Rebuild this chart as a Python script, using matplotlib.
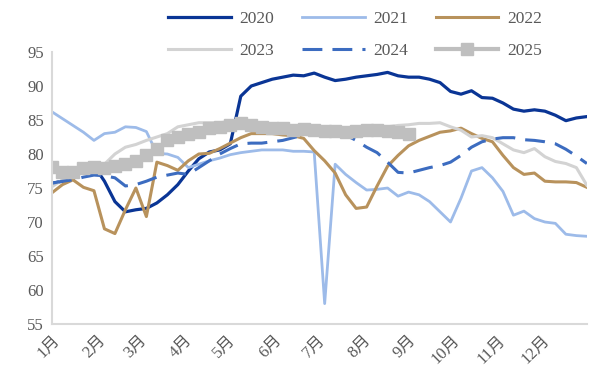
import numpy as np
import matplotlib.pyplot as plt

plt.rcParams['font.family'] = ['Liberation Serif', 'Noto Sans CJK SC']

weeks = np.arange(1, 53)
months = ['1月', '2月', '3月', '4月', '5月', '6月', '7月', '8月', '9月', '10月', '11月', '12月']
month_start_day = [0, 31, 59, 90, 120, 151, 181, 212, 243, 273, 304, 334]

y2020 = [75.7, 76.0, 76.3, 78.5, 78.3, 76.0, 73.0, 71.5, 71.8, 72.0, 72.8, 74.0, 75.5,
         77.5, 79.3, 80.3, 80.6, 81.5, 88.5, 90.0, 90.5, 91.0, 91.3, 91.6, 91.5, 91.9,
         91.3, 90.8, 91.0, 91.3, 91.5, 91.7, 92.0, 91.5, 91.3, 91.3, 91.0, 90.5, 89.2,
         88.8, 89.3, 88.3, 88.2, 87.5, 86.6, 86.3, 86.5, 86.3, 85.7, 84.9, 85.3, 85.5]
y2021 = [86.2, 85.2, 84.2, 83.2, 82.0, 83.0, 83.2, 84.0, 83.9, 83.3, 80.1, 80.0, 79.5,
         78.0, 78.5, 79.0, 79.4, 79.9, 80.2, 80.4, 80.6, 80.6, 80.6, 80.4, 80.4, 80.3,
         58.0, 78.5, 77.0, 75.8, 74.7, 74.8, 75.0, 73.8, 74.4, 74.0, 73.0, 71.5, 70.0,
         73.5, 77.5, 78.0, 76.5, 74.5, 71.0, 71.6, 70.5, 70.0, 69.8, 68.2, 68.0, 67.9]
y2022 = [74.3, 75.5, 76.2, 75.1, 74.6, 69.0, 68.3, 71.8, 75.0, 70.8, 78.8, 78.3, 77.6,
         79.0, 80.0, 80.1, 80.8, 81.6, 82.4, 83.0, 83.0, 83.0, 82.8, 82.7, 82.3, 80.5,
         79.0, 77.2, 74.0, 72.0, 72.2, 75.3, 78.2, 79.8, 81.2, 82.0, 82.6, 83.2, 83.4,
         83.8, 83.0, 82.3, 81.8, 79.8, 78.0, 77.0, 77.2, 76.0, 75.9, 75.9, 75.8, 75.1]
y2023 = [75.2, 76.2, 76.8, 77.3, 77.8, 78.5, 80.0, 81.0, 81.4, 82.0, 82.5, 83.0, 84.0,
         84.3, 84.6, 84.6, 84.6, 84.8, 84.5, 84.2, 84.0, 83.8, 83.6, 83.6, 83.5, 83.5,
         83.4, 83.4, 83.5, 83.6, 83.7, 83.8, 84.0, 84.2, 84.3, 84.5, 84.5, 84.6, 84.0,
         83.5, 82.5, 82.7, 82.4, 81.5, 80.6, 80.2, 80.8, 79.6, 78.9, 78.6, 78.0, 75.4]
y2024 = [75.7, 76.0, 76.2, 76.6, 76.9, 76.8, 76.5, 75.3, 75.5, 76.0, 76.6, 76.9, 77.2,
         77.0, 78.0, 79.0, 80.0, 80.8, 81.5, 81.6, 81.6, 81.8, 82.0, 82.4, 82.8, 83.0,
         83.0, 83.0, 82.8, 82.0, 81.0, 80.2, 78.8, 77.3, 77.2, 77.6, 78.0, 78.3, 78.8,
         79.8, 81.0, 81.8, 82.2, 82.4, 82.4, 82.1, 82.0, 81.8, 81.5, 80.7, 79.7, 78.6]
y2025 = [78.1, 77.3, 77.3, 78.0, 78.1, 78.0, 78.2, 78.5, 79.0, 79.8, 80.7, 82.0, 82.5,
         83.0, 83.3, 83.8, 84.0, 84.3, 84.5, 84.3, 84.0, 83.8, 83.8, 83.6, 83.7, 83.5,
         83.4, 83.4, 83.3, 83.4, 83.5, 83.6, 83.4, 83.2, 83.0]

fig = plt.figure(figsize=(5.97, 3.81), dpi=100)
ax = fig.add_axes([0.0871, 0.1496, 0.983 - 0.0871, 0.8635 - 0.1496])

l20, = ax.plot(weeks, y2020, color='#0a3595', lw=2.3, label='2020')
l21, = ax.plot(weeks, y2021, color='#9dbbe9', lw=2.0, label='2021')
l22, = ax.plot(weeks, y2022, color='#b8925c', lw=2.2, label='2022')
l23, = ax.plot(weeks, y2023, color='#d3d3d3', lw=2.2, label='2023')
l24, = ax.plot(weeks, y2024, color='#3c6cc0', lw=2.2, dashes=(6.5, 3.3), label='2024')
l25, = ax.plot(weeks[:len(y2025)], y2025, color='#bfbfbf', lw=3, marker='s',
               markersize=8.5, label='2025')

ax.set_xlim(1, 52)
ax.set_ylim(55, 95)
ax.set_yticks(range(55, 96, 5))
ax.set_xticks([1 + d / 365 * 51 for d in month_start_day])
ax.set_xticklabels(months, rotation=45, ha='right', rotation_mode='anchor')
ax.tick_params(length=0, labelsize=12, colors='#595959', pad=6)

for side in ['top', 'right']:
    ax.spines[side].set_visible(False)
for side in ['left', 'bottom']:
    ax.spines[side].set_color('#d9d9d9')
    ax.spines[side].set_linewidth(1.5)

# legend filled row by row: 2020 2021 2022 / 2023 2024 2025
handles = [l20, l23, l21, l24, l22, l25]
fig.legend(handles, [h.get_label() for h in handles], loc='upper center',
           bbox_to_anchor=(0.595, 1.013), ncol=3, frameon=False, numpoints=1,
           fontsize=12.5, handlelength=3.6, handletextpad=0.5, columnspacing=1.6,
           labelspacing=0.9, labelcolor='#595959')

fig.savefig('out.png', dpi=100)
